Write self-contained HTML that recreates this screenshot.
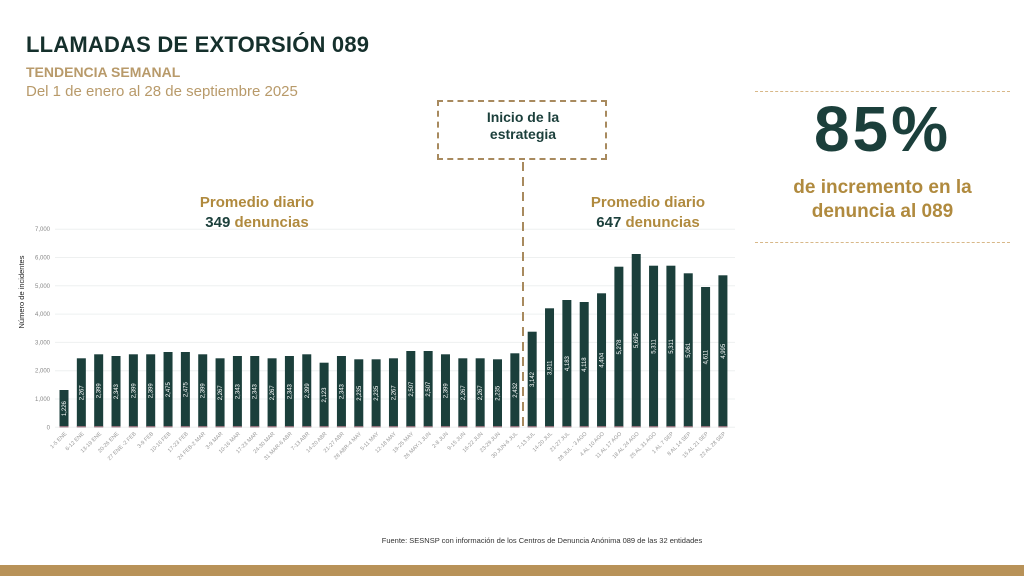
<!DOCTYPE html>
<html><head><meta charset="utf-8"><style>
body{margin:0;width:1024px;height:576px;background:#fff;overflow:hidden;position:relative;font-family:"Liberation Sans",sans-serif}
.abs{position:absolute}
</style></head><body>
<div class="abs" style="left:26px;top:32px;font-size:22px;font-weight:bold;color:#15302c;letter-spacing:0.2px">LLAMADAS DE EXTORSIÓN 089</div>
<div class="abs" style="left:26px;top:64px;font-size:14px;font-weight:bold;color:#b89a6a">TENDENCIA SEMANAL</div>
<div class="abs" style="left:26px;top:83px;font-size:15px;color:#b89a6a">Del 1 de enero al 28 de septiembre 2025</div>
<div class="abs" style="left:437px;top:100px;width:170px;height:60px;border:2px dashed #a88a5e;box-sizing:border-box;border-width:2px"></div>
<div class="abs" style="left:437px;top:109px;width:172px;text-align:center;font-size:14px;font-weight:bold;color:#1b3f3b;line-height:17px">Inicio de la<br>estrategia</div>
<div class="abs" style="left:755px;top:91px;width:255px;border-top:1px dashed #d8b888"></div>
<div class="abs" style="left:755px;top:242px;width:255px;border-top:1px dashed #d8b888"></div>
<div class="abs" style="left:755px;top:92px;width:255px;text-align:center;font-size:64px;font-weight:900;color:#1b3f3b;letter-spacing:3px">85%</div>
<div class="abs" style="left:755px;top:176px;width:255px;text-align:center;font-size:19px;font-weight:bold;color:#b08a3e;line-height:24px">de incremento en la<br>denuncia al 089</div>
<div class="abs" style="left:157px;top:193px;width:200px;text-align:center;font-size:15px;font-weight:bold;color:#b08a3e;line-height:20px">Promedio diario<br><span style="color:#1b3f3b">349</span> denuncias</div>
<div class="abs" style="left:548px;top:193px;width:200px;text-align:center;font-size:15px;font-weight:bold;color:#b08a3e;line-height:20px">Promedio diario<br><span style="color:#1b3f3b">647</span> denuncias</div>
<svg id="c" class="abs" style="left:0;top:0" width="1024" height="576"></svg>
<div class="abs" style="left:0;top:536px;width:1024px;text-align:center;font-size:7.5px;color:#333;padding-left:60px;box-sizing:border-box">Fuente: SESNSP con información de los Centros de Denuncia Anónima 089 de las 32 entidades</div>
<div class="abs" style="left:0;top:565px;width:1024px;height:11px;background:#b89258"></div>
<script>
var tops=[390,358.3,354.3,356,354.3,354.3,352,352,354.3,358.3,356,356,358.3,356,354.3,362.7,356,359.3,359.3,358.3,351,351,354.3,358.3,358.3,359.3,353.3,331.7,308.3,300,302,293.3,266.7,254,265.7,265.7,273.3,287,275.3];
var labs=["1-5 ENE","6-12 ENE","13-19 ENE","20-26 ENE","27 ENE -2 FEB","3-9 FEB","10-16 FEB","17-23 FEB","24 FEB-2 MAR","3-9 MAR","10-16 MAR","17-23 MAR","24-30 MAR","31 MAR-6 ABR","7-13 ABR","14-20 ABR","21-27 ABR","28 ABR-4 MAY","5-11 MAY","12-18 MAY","19-25 MAY","26 MAY-1 JUN","2-8 JUN","9-15 JUN","16-22 JUN","23-29 JUN","30 JUN-6 JUL","7-13 JUL","14-20 JUL","21-27 JUL","28 JUL - 3 AGO","4 AL 10 AGO","11 AL 17 AGO","18 AL 24 AGO","25 AL 31 AGO","1 AL 7 SEP","8 AL 14 SEP","15 AL 21 SEP","22 AL 28 SEP"];
var s='';var y0=427.3,st=28.3;
for(var k=0;k<=7;k++){var y=y0-k*st;s+='<line x1="55" x2="735" y1="'+y+'" y2="'+y+'" stroke="#eef0f0" stroke-width="1"/>';
s+='<text x="50" y="'+(y+2)+'" font-size="6" fill="#888" text-anchor="end">'+(k?k+',000':'0')+'</text>';}
s+='<text transform="translate(24,292) rotate(-90)" font-size="7.5" fill="#222" text-anchor="middle">Número de incidentes</text>';
for(var i=0;i<39;i++){var x=64+i*17.34,t=tops[i];var v=Math.round((y0-t)/st*1000*0.93);
s+='<rect x="'+(x-4.5)+'" y="'+t+'" width="9" height="'+(y0-t)+'" fill="#1b3f3b"/>';
s+='<rect x="'+(x-4.5)+'" y="'+(y0-1)+'" width="9" height="1" fill="#c98a9a"/>';
var ty=Math.min(y0-16,(t+y0)/2);
s+='<text transform="translate('+(x+2)+','+ty+') rotate(-90)" font-size="6" fill="#fff" text-anchor="middle">'+(Math.floor(v/1000)+','+String(v%1000).padStart(3,'0'))+'</text>';
s+='<text transform="translate('+(x+3)+',434) rotate(-45)" font-size="5.5" fill="#999" text-anchor="end">'+labs[i]+'</text>';}
s+='<line x1="523" x2="523" y1="162" y2="432" stroke="#a88a5e" stroke-width="2" stroke-dasharray="9,6"/>';
document.getElementById('c').innerHTML=s;
</script>
</body></html>
